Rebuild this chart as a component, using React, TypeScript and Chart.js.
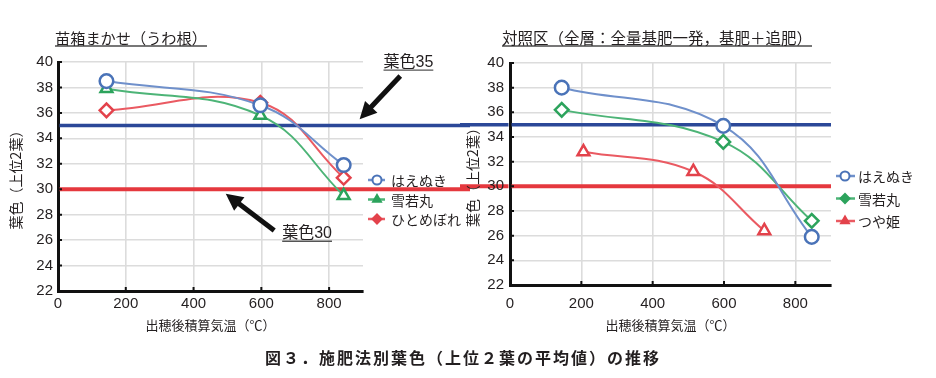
import React, { useEffect, useRef } from "react";
import { Chart, registerables } from "chart.js";
import { drawPoint } from "chart.js/helpers";

Chart.register(...registerables);

// ---------------- data ----------------
const leftTitle = "苗箱まかせ（うわ根）";
const rightTitle = "対照区（全層：全量基肥一発，基肥＋追肥）";
const figureCaption = "図３．施肥法別葉色（上位２葉の平均値）の推移";
const xAxisTitle = "出穂後積算気温（℃）";
const yAxisTitle = "葉色（上位2葉）";

const xMin = 0;
const xMax = 900;
const xStep = 200;
const yMin = 22;
const yMax = 40;
const yStep = 2;

const leftSeriesNames = ["はえぬき", "雪若丸", "ひとめぼれ"];
const leftX = [143, 597, 843];
const leftHaenuki = [38.5, 36.6, 31.9];
const leftYukiwakamaru = [37.9, 35.8, 29.5];
const leftHitomebore = [36.2, 36.8, 30.9];

const rightSeriesNames = ["はえぬき", "雪若丸", "つや姫"];
const rightX = [145, 598, 846];
const rightHaenuki = [38.0, 34.9, 25.9];
const rightYukiwakamaru = [36.2, 33.6, 27.2];
const rightTsuyahimeX = [206, 514, 713];
const rightTsuyahime = [32.8, 31.2, 26.4];

const referenceLevels = [35, 30];
const referenceLabels = ["葉色35", "葉色30"];

// ---------------- styles ----------------
const TEXT = "#231f20";
const BLUE = "#4a73b8";
const BLUE_LINE = "#6f90cb";
const GREEN = "#2ca35c";
const GREEN_LINE = "#4db477";
const RED = "#e3424b";
const RED_LINE = "#ea5a62";
const REF_COLORS = ["#2b4898", "#e5383e"];
const REF_WIDTHS = [3.5, 4];
const GRID = "#dcdcdc";
const NUM_FONT = '"Liberation Sans", Arial, sans-serif';
const JP_FONT = '"Noto Sans CJK JP", "Noto Sans CJK SC", sans-serif';

const toPoints = (xs: number[], ys: number[]) => xs.map((x, i) => ({ x, y: ys[i] }));

type Annot = {
  text: string;
  at: [number, number];
  tail: [number, number];
  tip: [number, number];
};

type PanelCfg = {
  extendLeft: boolean;
  extendRight: boolean;
  legendTop: number;
  legendGap: number;
  legendLine: [number, number];
  legendMarkerX: number;
  legendTextX: number;
  legendFilled: boolean[];
  annotations: Annot[];
};

function drawArrow(ctx: CanvasRenderingContext2D, x1: number, y1: number, x2: number, y2: number) {
  const ang = Math.atan2(y2 - y1, x2 - x1);
  const headLen = 17;
  const headW = 8.5;
  const c = Math.cos(ang);
  const s = Math.sin(ang);
  const bx = x2 - headLen * c;
  const by = y2 - headLen * s;
  ctx.save();
  ctx.strokeStyle = "#111";
  ctx.fillStyle = "#111";
  ctx.lineWidth = 5;
  ctx.beginPath();
  ctx.moveTo(x1, y1);
  ctx.lineTo(bx + 2 * c, by + 2 * s);
  ctx.stroke();
  ctx.beginPath();
  ctx.moveTo(x2, y2);
  ctx.lineTo(bx - headW * s, by + headW * c);
  ctx.lineTo(bx + headW * s, by - headW * c);
  ctx.closePath();
  ctx.fill();
  ctx.restore();
}

function makePanelPlugin(cfg: PanelCfg) {
  return {
    id: "panel",
    beforeDraw(chart: any) {
      const { ctx, chartArea, scales } = chart;
      const w = chart.width;
      ctx.save();
      referenceLevels.forEach((v, i) => {
        const y = scales.y.getPixelForValue(v);
        ctx.strokeStyle = REF_COLORS[i];
        ctx.lineWidth = REF_WIDTHS[i];
        ctx.beginPath();
        if (cfg.extendRight) {
          ctx.moveTo(chartArea.right, y);
          ctx.lineTo(w, y);
        }
        if (cfg.extendLeft) {
          ctx.moveTo(0, y);
          ctx.lineTo(chartArea.left - 1.5, y);
        }
        ctx.stroke();
      });
      ctx.restore();
    },
    beforeDatasetsDraw(chart: any) {
      const { ctx, chartArea, scales } = chart;
      ctx.save();
      referenceLevels.forEach((v, i) => {
        const y = scales.y.getPixelForValue(v);
        ctx.strokeStyle = REF_COLORS[i];
        ctx.lineWidth = REF_WIDTHS[i];
        ctx.beginPath();
        ctx.moveTo(chartArea.left + 1.5, y);
        ctx.lineTo(chartArea.right, y);
        ctx.stroke();
      });
      ctx.restore();
    },
    afterDraw(chart: any) {
      const { ctx, chartArea, scales } = chart;
      const sx = scales.x;
      const sy = scales.y;
      ctx.save();
      // inner tick marks
      ctx.strokeStyle = "#111";
      ctx.lineWidth = 2;
      ctx.beginPath();
      sy.ticks.forEach((t: any) => {
        const y = sy.getPixelForValue(t.value);
        ctx.moveTo(chartArea.left, y);
        ctx.lineTo(chartArea.left + 4, y);
      });
      sx.ticks.forEach((t: any) => {
        if (t.value === xMin) return;
        const x = sx.getPixelForValue(t.value);
        ctx.moveTo(x, chartArea.bottom);
        ctx.lineTo(x, chartArea.bottom - 4);
      });
      ctx.stroke();

      // legend
      chart.data.datasets.forEach((d: any, i: number) => {
        const y = chartArea.top + cfg.legendTop + i * cfg.legendGap;
        const x0 = chartArea.right;
        ctx.strokeStyle = d.borderColor;
        ctx.lineWidth = 2.5;
        ctx.beginPath();
        ctx.moveTo(x0 + cfg.legendLine[0], y);
        ctx.lineTo(x0 + cfg.legendLine[1], y);
        ctx.stroke();
        ctx.fillStyle = cfg.legendFilled[i] ? d.pointBorderColor : "#fff";
        ctx.strokeStyle = d.pointBorderColor;
        ctx.lineWidth = 2;
        drawPoint(ctx, { pointStyle: d.pointStyle, radius: 4.5, borderWidth: 2, rotation: 0 } as any, x0 + cfg.legendMarkerX, y);
        ctx.fillStyle = TEXT;
        ctx.font = `14px ${JP_FONT}`;
        ctx.textAlign = "left";
        ctx.textBaseline = "middle";
        ctx.fillText(d.label, x0 + cfg.legendTextX, y + 1);
      });

      // annotations
      cfg.annotations.forEach((a) => {
        drawArrow(
          ctx,
          sx.getPixelForValue(a.tail[0]),
          sy.getPixelForValue(a.tail[1]),
          sx.getPixelForValue(a.tip[0]),
          sy.getPixelForValue(a.tip[1])
        );
        const tx = sx.getPixelForValue(a.at[0]);
        const ty = sy.getPixelForValue(a.at[1]);
        ctx.font = `16px "Liberation Sans", ${JP_FONT}`;
        ctx.fillStyle = TEXT;
        ctx.textAlign = "center";
        ctx.textBaseline = "middle";
        ctx.fillText(a.text, tx, ty);
        const tw = ctx.measureText(a.text).width;
        ctx.strokeStyle = "#555";
        ctx.lineWidth = 1.3;
        ctx.beginPath();
        ctx.moveTo(tx - tw / 2, ty + 7.5);
        ctx.lineTo(tx + tw / 2, ty + 7.5);
        ctx.stroke();
      });
      ctx.restore();
    },
  };
}

function makeDataset(label: string, data: { x: number; y: number }[], line: string, marker: string, style: string) {
  return {
    label,
    data,
    borderColor: line,
    borderWidth: 2,
    tension: 0.4,
    pointStyle: style,
    pointRadius: 6.8,
    pointBorderWidth: 2.5,
    pointBorderColor: marker,
    pointBackgroundColor: "#fff",
    clip: false,
  };
}

function makeOptions(pad: any, yWidth: number, xHeight: number, xTickPad: number, yTickPad: number, yTitlePad: number, xTitlePad: number) {
  return {
    responsive: false,
    animation: false as const,
    events: [],
    layout: { padding: pad },
    plugins: {
      legend: { display: false },
      tooltip: { enabled: false },
      title: { display: false },
    },
    scales: {
      x: {
        type: "linear" as const,
        min: xMin,
        max: xMax,
        ticks: {
          stepSize: xStep,
          includeBounds: false,
          padding: xTickPad,
          color: TEXT,
          font: { family: NUM_FONT, size: 15 },
          maxRotation: 0,
        },
        grid: { color: GRID, lineWidth: 1.6, drawTicks: false },
        border: { color: "#111", width: 3 },
        title: {
          display: true,
          text: xAxisTitle,
          color: TEXT,
          font: { family: JP_FONT, size: 13 },
          padding: { top: 0, bottom: xTitlePad },
        },
        afterFit: (s: any) => {
          s.height = xHeight;
        },
      },
      y: {
        min: yMin,
        max: yMax,
        ticks: {
          stepSize: yStep,
          padding: yTickPad,
          color: TEXT,
          font: { family: NUM_FONT, size: 15 },
        },
        grid: { color: GRID, lineWidth: 1.6, drawTicks: false },
        border: { color: "#111", width: 3 },
        title: {
          display: true,
          text: yAxisTitle,
          color: TEXT,
          font: { family: JP_FONT, size: 14 },
          padding: { top: yTitlePad, bottom: 0 },
        },
        afterFit: (s: any) => {
          s.width = yWidth;
        },
      },
    },
  };
}

export default function App() {
  const leftRef = useRef<HTMLCanvasElement>(null);
  const rightRef = useRef<HTMLCanvasElement>(null);

  useEffect(() => {
    const left = new Chart(leftRef.current as HTMLCanvasElement, {
      type: "line",
      data: {
        datasets: [
          makeDataset(leftSeriesNames[0], toPoints(leftX, leftHaenuki), BLUE_LINE, BLUE, "circle"),
          makeDataset(leftSeriesNames[1], toPoints(leftX, leftYukiwakamaru), GREEN_LINE, GREEN, "triangle"),
          makeDataset(leftSeriesNames[2], toPoints(leftX, leftHitomebore), RED_LINE, RED, "rectRot"),
        ] as any,
      },
      options: makeOptions({ left: 0, top: 62, right: 107, bottom: 42 }, 58, 45, 4, 5, 7.6, 3) as any,
      plugins: [
        makePanelPlugin({
          extendLeft: false,
          extendRight: true,
          legendTop: 118,
          legendGap: 19.5,
          legendLine: [5, 22],
          legendMarkerX: 14,
          legendTextX: 28,
          legendFilled: [false, true, true],
          annotations: [
            { text: referenceLabels[0], at: [1034, 39.95], tail: [1010, 38.9], tip: [890, 35.5] },
            { text: referenceLabels[1], at: [735, 26.5], tail: [638, 26.75], tip: [495, 29.65] },
          ],
        }),
      ],
    });
    const right = new Chart(rightRef.current as HTMLCanvasElement, {
      type: "line",
      data: {
        datasets: [
          makeDataset(rightSeriesNames[0], toPoints(rightX, rightHaenuki), BLUE_LINE, BLUE, "circle"),
          makeDataset(rightSeriesNames[1], toPoints(rightX, rightYukiwakamaru), GREEN_LINE, GREEN, "rectRot"),
          makeDataset(rightSeriesNames[2], toPoints(rightTsuyahimeX, rightTsuyahime), RED_LINE, RED, "triangle"),
        ] as any,
      },
      options: makeOptions({ left: 0, top: 63, right: 105, bottom: 41 }, 50, 52, 10, 6, 4.6, 4) as any,
      plugins: [
        makePanelPlugin({
          extendLeft: true,
          extendRight: false,
          legendTop: 113,
          legendGap: 22.5,
          legendLine: [5, 24],
          legendMarkerX: 14,
          legendTextX: 27,
          legendFilled: [false, true, true],
          annotations: [],
        }),
      ],
    });
    return () => {
      left.destroy();
      right.destroy();
    };
  }, []);

  const titleStyle: React.CSSProperties = {
    position: "absolute",
    top: 29.5,
    fontFamily: JP_FONT,
    color: TEXT,
    lineHeight: "15px",
    whiteSpace: "nowrap",
    borderBottom: "2px solid #777",
  };

  return (
    <div
      style={{
        position: "absolute",
        left: 0,
        top: 0,
        width: 936,
        height: 378,
        background: "#fff",
        overflow: "hidden",
      }}
    >
      <canvas ref={leftRef} width={470} height={378} style={{ position: "absolute", left: 0, top: 0 }} />
      <canvas ref={rightRef} width={476} height={378} style={{ position: "absolute", left: 460, top: 0 }} />
      <div style={{ ...titleStyle, left: 55, fontSize: 15.2 }}>{leftTitle}</div>
      <div style={{ ...titleStyle, left: 502, fontSize: 15.5 }}>{rightTitle}</div>
      <div
        style={{
          position: "absolute",
          left: 265,
          top: 349,
          fontFamily: JP_FONT,
          fontSize: 16,
          fontWeight: 700,
          letterSpacing: 2,
          lineHeight: "16px",
          color: TEXT,
          whiteSpace: "nowrap",
        }}
      >
        {figureCaption}
      </div>
    </div>
  );
}
